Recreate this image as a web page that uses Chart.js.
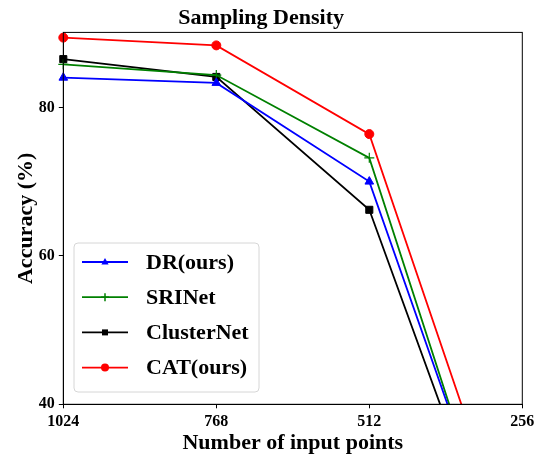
<!DOCTYPE html>
<html>
<head>
<meta charset="utf-8">
<script src="https://cdn.jsdelivr.net/npm/chart.js@4/dist/chart.umd.min.js"></script>
<style>
  html, body { margin: 0; padding: 0; background: #fff; }
  #wrap { width: 549px; height: 457px; }
</style>
</head>
<body>
<div id="wrap"><canvas id="chart"></canvas></div>
<script>
// dữ liệu
const pointLabels = ['1024', '768', '512', '256'];
const drOurs = [84.0, 83.3, 70.0, 11.3];
const sriNet = [85.8, 84.35, 73.2, 9.6];
const clusterNet = [86.5, 84.1, 66.2, 9.6];
const catOurs = [89.4, 88.35, 76.4, 15.9];
const yTicks = [40, 60, 80];

const serif = '"Liberation Serif", "Times New Roman", serif';

// khung bao quanh vùng vẽ
const framePlugin = {
    id: 'frame',
    afterDraw(chart) {
        const { ctx, chartArea: a } = chart;
        ctx.save();
        ctx.strokeStyle = '#000';
        ctx.lineWidth = 1;
        ctx.strokeRect(a.left, a.top, a.right - a.left, a.bottom - a.top);
        ctx.restore();
    }
};

// vẽ marker giống kiểu điểm
function drawMarker(ctx, style, x, y, r, color) {
    ctx.fillStyle = color;
    ctx.strokeStyle = color;
    ctx.lineWidth = 1.5;
    ctx.beginPath();
    if (style === 'circle') {
        ctx.arc(x, y, r, 0, Math.PI * 2);
        ctx.fill();
    } else if (style === 'rect') {
        ctx.rect(x - r * 0.75, y - r * 0.75, r * 1.5, r * 1.5);
        ctx.fill();
    } else if (style === 'triangle') {
        ctx.moveTo(x, y - r);
        ctx.lineTo(x + r * 0.9, y + r * 0.6);
        ctx.lineTo(x - r * 0.9, y + r * 0.6);
        ctx.closePath();
        ctx.fill();
    } else if (style === 'cross') {
        ctx.moveTo(x - r, y); ctx.lineTo(x + r, y);
        ctx.moveTo(x, y - r); ctx.lineTo(x, y + r);
        ctx.stroke();
    }
}

// chú thích đặt trong vùng vẽ, góc dưới trái
const legendBoxPlugin = {
    id: 'legendBox',
    afterDatasetsDraw(chart) {
        const { ctx } = chart;
        const x0 = 74, y0 = 243, w = 185, h = 149;
        ctx.save();
        ctx.fillStyle = 'rgba(255,255,255,0.85)';
        ctx.strokeStyle = '#d6d6d6';
        ctx.lineWidth = 1;
        ctx.beginPath();
        ctx.roundRect(x0, y0, w, h, 4);
        ctx.fill();
        ctx.stroke();
        chart.data.datasets.forEach((ds, i) => {
            const y = 262 + i * 35.2;
            ctx.strokeStyle = ds.borderColor;
            ctx.lineWidth = 1.8;
            ctx.beginPath();
            ctx.moveTo(82, y);
            ctx.lineTo(128, y);
            ctx.stroke();
            drawMarker(ctx, ds.pointStyle, 105, y, 4, ds.borderColor);
            ctx.fillStyle = '#000';
            ctx.font = 'bold 22px ' + serif;
            ctx.textBaseline = 'middle';
            ctx.textAlign = 'left';
            ctx.fillText(ds.label, 146, y + 1);
        });
        ctx.restore();
    }
};

function makeSet(label, data, color, style, radius) {
    return {
        label: label,
        data: data,
        borderColor: color,
        backgroundColor: color,
        borderWidth: 1.8,
        pointStyle: style,
        pointRadius: radius,
        pointHoverRadius: radius,
        pointBorderWidth: style === 'cross' ? 1.2 : 1,
        tension: 0
    };
}

new Chart(document.getElementById('chart'), {
    type: 'line',
    data: {
        labels: pointLabels,
        datasets: [
            makeSet('DR(ours)', drOurs, '#0000ff', 'triangle', 5),
            makeSet('SRINet', sriNet, '#008000', 'cross', 5),
            makeSet('ClusterNet', clusterNet, '#000000', 'rect', 5),
            makeSet('CAT(ours)', catOurs, '#ff0000', 'circle', 4.5)
        ]
    },
    options: {
        responsive: true,
        maintainAspectRatio: false,
        animation: false,
        layout: { padding: { left: 0, right: 26.7, top: 0, bottom: 0 } },
        plugins: {
            legend: { display: false },
            tooltip: { enabled: false },
            title: {
                display: true,
                text: 'Sampling Density',
                color: '#000',
                font: { family: serif, size: 22, weight: 'bold' },
                padding: { top: 5, bottom: 1 }
            }
        },
        scales: {
            x: {
                offset: false,
                afterFit(scale) { scale.height = 52.7; },
                grid: { display: true, drawOnChartArea: false, drawTicks: true, tickLength: 4, color: '#000' },
                border: { display: true, color: '#000' },
                ticks: { color: '#000', padding: 4, maxRotation: 0, font: { family: serif, size: 16, weight: 'bold' } },
                title: {
                    display: true,
                    text: 'Number of input points',
                    color: '#000',
                    font: { family: serif, size: 22, weight: 'bold' },
                    padding: { top: 0, bottom: 0 }
                }
            },
            y: {
                min: 40,
                max: 90.1,
                afterFit(scale) { scale.width = 63.3; },
                afterBuildTicks(scale) { scale.ticks = yTicks.map(v => ({ value: v })); },
                grid: { display: true, drawOnChartArea: false, drawTicks: true, tickLength: 4.5, color: '#000' },
                border: { display: true, color: '#000' },
                ticks: { color: '#000', padding: 4, font: { family: serif, size: 16, weight: 'bold' } },
                title: {
                    display: true,
                    text: 'Accuracy (%)',
                    color: '#000',
                    font: { family: serif, size: 22, weight: 'bold' },
                    padding: { top: 13, bottom: 0 }
                }
            }
        }
    },
    plugins: [framePlugin, legendBoxPlugin]
});
</script>
</body>
</html>
